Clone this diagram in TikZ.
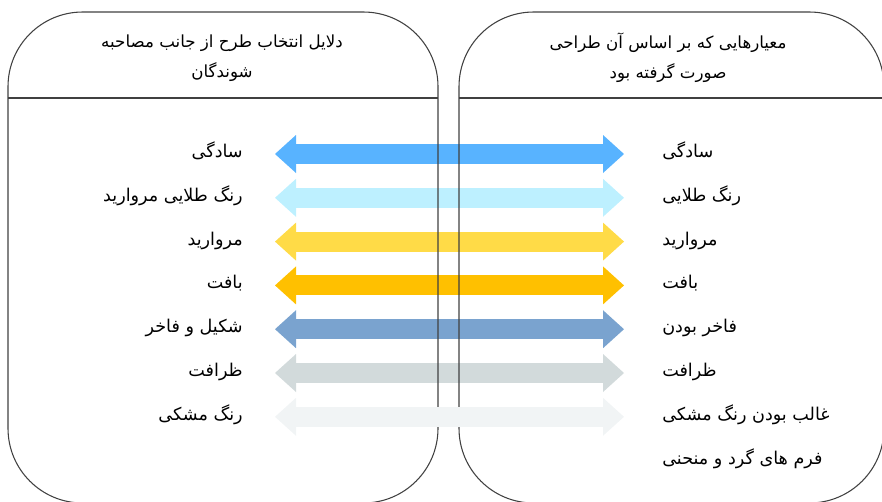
\documentclass[tikz,border=0pt]{standalone}
\usepackage{fontspec}
\usetikzlibrary{arrows.meta}
\newfontfamily\farsi[Script=Arabic]{DejaVu Sans}
\TeXXeTstate=1

\definecolor{arblue}{HTML}{58B3FF}
\definecolor{arcyan}{HTML}{BDF0FF}
\definecolor{argold}{HTML}{FFDB47}
\definecolor{aramber}{HTML}{FFC000}
\definecolor{arsteel}{HTML}{7AA3CF}
\definecolor{argray}{HTML}{D2DADB}
\definecolor{arpale}{HTML}{F1F4F5}
\definecolor{edge}{HTML}{404040}

\tikzset{
  item/.style = {inner sep=0pt, text height=2.1ex, text depth=0.9ex,
                 font=\farsi\fontsize{13.2}{15}\selectfont},
  head/.style = {inner sep=0pt, align=center,
                 font=\farsi\fontsize{12.5}{22.5}\selectfont},
  twoway/.style = {line width=15pt, draw=#1,
                   {Triangle[length=15.75pt,width=28.5pt,line width=0pt]}-{Triangle[length=15.75pt,width=28.5pt,line width=0pt]},
                   shorten <=24pt, shorten >=28.5pt},
  panel/.style = {draw=edge, line width=0.8pt, rounded corners=56pt}
}

\begin{document}
\begin{tikzpicture}[x=0.75pt,y=-0.75pt]
	\def \lx{243}
	\def \rx{662}
	\def \top{154}
	\def \h{43.8}

	\useasboundingbox (0,0) rectangle (882,501);

	% Headers
	\node[head] (lhead) at (222,58) {\beginR دلایل انتخاب طرح از جانب مصاحبه\endR\\\beginR شوندگان\endR};
	\node[head] (rhead) at (668,58) {\beginR معیارهایی که بر اساس آن طراحی\endR\\\beginR صورت گرفته بود\endR};

	% Left column
	\node[item, anchor=east] (l1) at (\lx,\top)      {\beginR سادگی\endR};
	\node[item, anchor=east] (l2) at (\lx,\top+\h)   {\beginR رنگ طلایی مروارید\endR};
	\node[item, anchor=east] (l3) at (\lx,\top+2*\h) {\beginR مروارید\endR};
	\node[item, anchor=east] (l4) at (\lx,\top+3*\h) {\beginR بافت\endR};
	\node[item, anchor=east] (l5) at (\lx,\top+4*\h) {\beginR شکیل و فاخر\endR};
	\node[item, anchor=east] (l6) at (\lx,\top+5*\h) {\beginR ظرافت\endR};
	\node[item, anchor=east] (l7) at (\lx,\top+6*\h) {\beginR رنگ مشکی\endR};

	% Right column
	\node[item, anchor=west] (r1) at (\rx,\top)      {\beginR سادگی\endR};
	\node[item, anchor=west] (r2) at (\rx,\top+\h)   {\beginR رنگ طلایی\endR};
	\node[item, anchor=west] (r3) at (\rx,\top+2*\h) {\beginR مروارید\endR};
	\node[item, anchor=west] (r4) at (\rx,\top+3*\h) {\beginR بافت\endR};
	\node[item, anchor=west] (r5) at (\rx,\top+4*\h) {\beginR فاخر بودن\endR};
	\node[item, anchor=west] (r6) at (\rx,\top+5*\h) {\beginR ظرافت\endR};
	\node[item, anchor=west] (r7) at (\rx,\top+6*\h) {\beginR غالب بودن رنگ مشکی\endR};
	\node[item, anchor=west] (r8) at (\rx,\top+7*\h) {\beginR فرم های گرد و منحنی\endR};

	% Arrows
	\draw[twoway=arblue]   (l1.east) -- (r1.west);
	\draw[twoway=arcyan]   (l2.east) -- (r2.west);
	\draw[twoway=argold]   (l3.east) -- (r3.west);
	\draw[twoway=aramber]  (l4.east) -- (r4.west);
	\draw[twoway=arsteel]  (l5.east) -- (r5.west);
	\draw[twoway=argray]   (l6.east) -- (r6.west);

	% Panels
	\draw[panel] (8,503) -- (8,12) -- (438,12) -- (438,503) -- cycle;
	\draw[panel] (459,503) -- (459,12) -- (884,12) -- (884,503) -- cycle;
	\draw[edge, line width=0.8pt] (8,98) -- (438,98);
	\draw[edge, line width=0.8pt] (459,98) -- (884,98);

	\draw[twoway=arpale]   (l7.east) -- (r7.west);
\end{tikzpicture}
\end{document}
